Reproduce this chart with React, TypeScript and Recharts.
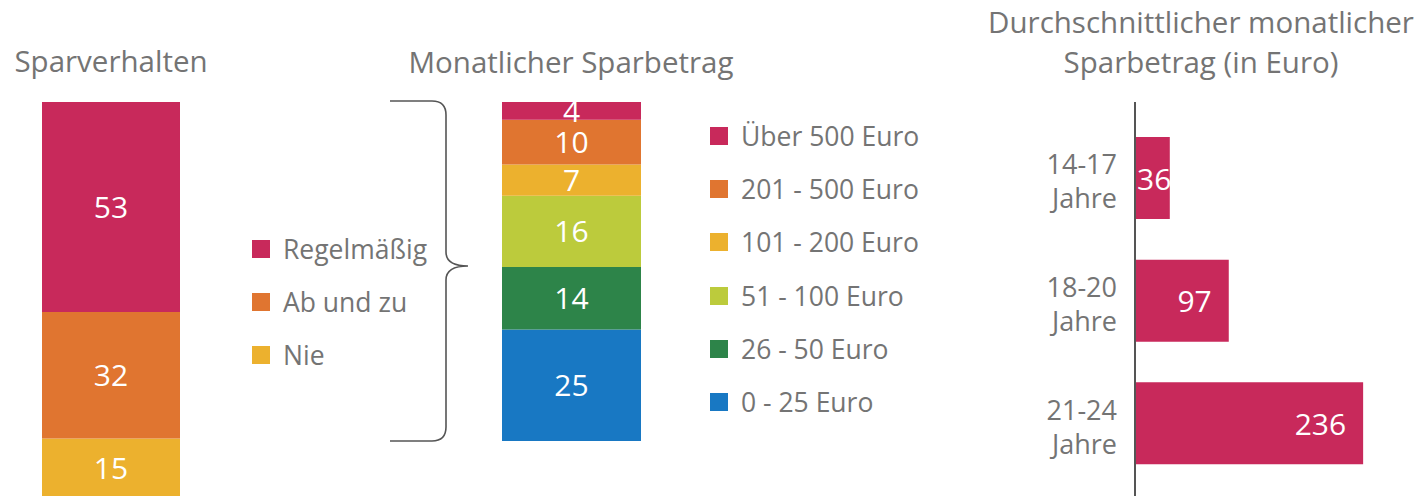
import { Bar, BarChart, LabelList, XAxis, YAxis } from "recharts";

// Sparverhalten (in Prozent)
const verhaltenLabels = ["Regelmäßig", "Ab und zu", "Nie"];
const verhaltenValues = [53, 32, 15];
const verhaltenColors = ["#c8295b", "#e07530", "#ecb12e"];

// Monatlicher Sparbetrag der regelmäßigen Sparer
const betragLabels = ["Über 500 Euro", "201 - 500 Euro", "101 - 200 Euro", "51 - 100 Euro", "26 - 50 Euro", "0 - 25 Euro"];
const betragValues = [4, 10, 7, 16, 14, 25];
const betragColors = ["#c8295b", "#e07530", "#ecb12e", "#bccb3c", "#2d8449", "#1878c3"];

// Durchschnittlicher monatlicher Sparbetrag (in Euro)
const altersgruppen = ["14-17 Jahre", "18-20 Jahre", "21-24 Jahre"];
const durchschnitt = [36, 97, 236];

const FONT = "'Open Sans', sans-serif";
const GREY = "#747474";
const VALUE_SIZE = 30;

const verhaltenRow: Record<string, string | number> = { name: "Sparverhalten" };
verhaltenValues.forEach((v, i) => (verhaltenRow[`k${i}`] = v));

const betragRow: Record<string, string | number> = { name: "Sparbetrag" };
betragValues.forEach((v, i) => (betragRow[`k${i}`] = v));

const alterData = altersgruppen.map((name, i) => ({ name, value: durchschnitt[i] }));

const AgeTick = ({ x, y, payload }: any) => {
    const [first, second] = String(payload.value).split(" ");
    return (
        <text x={x} y={y} textAnchor="end" fill={GREY} fontSize={27} fontFamily={FONT}>
            <tspan x={x} dy={-4}>{first}</tspan>
            <tspan x={x} dy={34}>{second}</tspan>
        </text>
    );
};

const AgeValue = ({ x, y, width, height, value }: any) => {
    const wide = width > 70;
    return (
        <text
            x={wide ? x + width - 17 : x + 2}
            y={y + height / 2}
            textAnchor={wide ? "end" : "start"}
            dominantBaseline="central"
            fill="#fff"
            fontSize={VALUE_SIZE}
            fontFamily={FONT}
        >
            {value}
        </text>
    );
};

const Title = ({ lines, center, top, lineHeight = 40 }: { lines: string[]; center: number; top: number; lineHeight?: number }) => (
    <div
        style={{
            position: "absolute",
            left: center - 300,
            width: 600,
            top,
            textAlign: "center",
            fontSize: 29.5,
            lineHeight: `${lineHeight}px`,
            color: GREY,
            fontFamily: FONT,
        }}
    >
        {lines.map((l) => (
            <div key={l}>{l}</div>
        ))}
    </div>
);

const LegendList = ({ labels, colors, left, firstCenter, step }: { labels: string[]; colors: string[]; left: number; firstCenter: number; step: number }) => (
    <>
        {labels.map((label, i) => (
            <div
                key={label}
                style={{
                    position: "absolute",
                    left,
                    top: firstCenter + i * step - 15,
                    height: 30,
                    display: "flex",
                    alignItems: "center",
                    fontSize: 26.5,
                    color: GREY,
                    fontFamily: FONT,
                    whiteSpace: "nowrap",
                }}
            >
                <span style={{ width: 18, height: 18, background: colors[i], marginRight: 13, display: "inline-block" }} />
                {label}
            </div>
        ))}
    </>
);

export default function App() {
    return (
        <div style={{ position: "fixed", left: 0, top: 0, width: 1418, height: 496, overflow: "hidden", background: "#fff" }}>
            <Title lines={["Sparverhalten"]} center={111} top={41} />
            <Title lines={["Monatlicher Sparbetrag"]} center={571} top={42} />
            <Title lines={["Durchschnittlicher monatlicher", "Sparbetrag (in Euro)"]} center={1201} top={2} lineHeight={40} />

            <div style={{ position: "absolute", left: 42, top: 92 }}>
                <BarChart width={138} height={406} data={[verhaltenRow]} margin={{ top: 10, right: 0, bottom: 0, left: 0 }} barCategoryGap={0}>
                    <XAxis dataKey="name" hide />
                    <YAxis hide domain={[0, 100]} />
                    {verhaltenValues
                        .map((_, i) => i)
                        .reverse()
                        .map((i) => (
                            <Bar key={i} dataKey={`k${i}`} stackId="a" fill={verhaltenColors[i]} isAnimationActive={false}>
                                <LabelList dataKey={`k${i}`} position="center" fill="#fff" fontSize={VALUE_SIZE} fontFamily={FONT} />
                            </Bar>
                        ))}
                </BarChart>
            </div>

            <LegendList labels={verhaltenLabels} colors={verhaltenColors} left={252} firstCenter={249} step={53} />

            <svg style={{ position: "absolute", left: 0, top: 0 }} width={1418} height={496}>
                <path
                    d="M390 101 H432 Q446 101 446 115 V252 Q446 266 468 266 Q446 266 446 280 V427 Q446 441 432 441 H390"
                    fill="none"
                    stroke="#555"
                    strokeWidth={1.6}
                />
            </svg>

            <div style={{ position: "absolute", left: 502, top: 82 }}>
                <BarChart width={139} height={359} data={[betragRow]} margin={{ top: 20, right: 0, bottom: 0, left: 0 }} barCategoryGap={0}>
                    <XAxis dataKey="name" hide />
                    <YAxis hide domain={[0, 76]} />
                    {betragValues
                        .map((_, i) => i)
                        .reverse()
                        .map((i) => (
                            <Bar key={i} dataKey={`k${i}`} stackId="a" fill={betragColors[i]} isAnimationActive={false}>
                                <LabelList dataKey={`k${i}`} position="center" fill="#fff" fontSize={VALUE_SIZE} fontFamily={FONT} />
                            </Bar>
                        ))}
                </BarChart>
            </div>

            <LegendList labels={betragLabels} colors={betragColors} left={710} firstCenter={136} step={53.2} />

            <div style={{ position: "absolute", left: 1000, top: 0 }}>
                <BarChart width={425} height={505} data={alterData} layout="vertical" margin={{ top: 102, right: 0, bottom: 0, left: 0 }}>
                    <XAxis type="number" domain={[0, 300]} hide />
                    <YAxis
                        type="category"
                        dataKey="name"
                        width={135}
                        padding={{ top: 15, bottom: 20 }}
                        axisLine={{ stroke: "#555", strokeWidth: 2 }}
                        tickLine={false}
                        tickSize={0}
                        tickMargin={18}
                        tick={<AgeTick />}
                    />
                    <Bar dataKey="value" fill="#c8295b" barSize={82} isAnimationActive={false}>
                        <LabelList dataKey="value" content={<AgeValue />} />
                    </Bar>
                </BarChart>
            </div>
        </div>
    );
}
